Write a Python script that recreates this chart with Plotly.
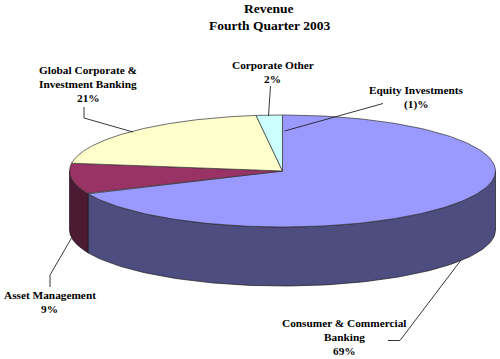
import numpy as np
import plotly.graph_objects as go

# ---- data -------------------------------------------------------------
categories = ["Consumer & Commercial Banking", "Asset Management",
              "Global Corporate & Investment Banking", "Corporate Other",
              "Equity Investments"]
values = [69, 9, 21, 2, -1]
value_labels = ["69%", "9%", "21%", "2%", "(1)%"]

# ---- styles -----------------------------------------------------------
top_colors = ["#9999FF", "#993366", "#FFFFCC", "#CCFFFF", "#FFFFFF"]
wall_colors = ["#4D4D80", "#4D1A33", "#808066", "#668080", "#FFFFFF"]
FONT = "Liberation Serif"
CX, CY, RX, RY, DEPTH = 282.5, 171, 213, 56, 59

W, H = 500, 359
fig = go.Figure()


def pt(theta, drop=0.0):
    return CX + RX * np.sin(theta), CY - RY * np.cos(theta) + drop


# slice angles follow the positive values, clockwise from 12 o'clock
pos = [max(v, 0) for v in values]
fractions = np.cumsum([0] + pos) / sum(pos)
angles = 2 * np.pi * fractions

# side walls first (only the front half of the disc shows a wall)
for i, name in enumerate(categories):
    a0, a1 = max(angles[i], np.pi / 2), min(angles[i + 1], 3 * np.pi / 2)
    if a1 <= a0:
        continue
    t = np.linspace(a0, a1, 120)
    xt, yt = pt(t)
    xb, yb = pt(t[::-1], DEPTH)
    fig.add_trace(go.Scatter(
        x=np.r_[xt, xb, xt[0]], y=np.r_[yt, yb, yt[0]], mode="lines",
        fill="toself", fillcolor=wall_colors[i], name=name, hoverinfo="name",
        line=dict(color="#1a1a1a", width=0.7)))

# top faces
for i, name in enumerate(categories):
    if pos[i] == 0:
        continue
    t = np.linspace(angles[i], angles[i + 1], 200)
    xt, yt = pt(t)
    fig.add_trace(go.Scatter(
        x=np.r_[CX, xt, CX], y=np.r_[CY, yt, CY], mode="lines",
        fill="toself", fillcolor=top_colors[i], name=name, hoverinfo="name",
        line=dict(color="#303030", width=0.7)))

# leader lines
leaders = [
    [(84, 107), (84, 118), (133, 132)],
    [(270.5, 86), (268.5, 116)],
    [(383, 103.5), (284.5, 131)],
    [(71.5, 238), (50, 275), (50, 287)],
    [(461, 260), (400, 340.5), (388, 340.5)],
]
for path in leaders:
    d = "M " + " L ".join(f"{x} {y}" for x, y in path)
    fig.add_shape(type="path", path=d, xref="x", yref="y",
                  line=dict(color="#202020", width=0.9))


def label(lines, x, y, size=11.3, dy=14):
    for k, s in enumerate(lines):
        fig.add_annotation(x=x, y=y + k * dy, text=f"<b>{s}</b>", xref="x", yref="y",
                           showarrow=False, xanchor="center", yanchor="middle",
                           font=dict(family=FONT, size=size, color="#000000"))


label(["Revenue", "Fourth Quarter 2003"], 269, 8, size=13.5, dy=17)
label(["Global Corporate &amp;", "Investment Banking", value_labels[2]], 88, 69.5)
label(["Corporate Other", value_labels[3]], 272.5, 64.5)
label([categories[4], value_labels[4]], 416, 90)
label([categories[1], value_labels[1]], 49.5, 295)
label(["Consumer &amp; Commercial", "Banking", value_labels[0]], 344, 323)

fig.update_layout(
    width=W, height=H, margin=dict(l=0, r=0, t=0, b=0),
    paper_bgcolor="white", plot_bgcolor="white", showlegend=False,
    xaxis=dict(range=[0, W], visible=False, fixedrange=True),
    yaxis=dict(range=[H, 0], visible=False, fixedrange=True),
)
fig.write_html("out.html", config={"displayModeBar": False},
               post_script="document.body.style.margin='0';document.body.style.overflow='hidden';")
